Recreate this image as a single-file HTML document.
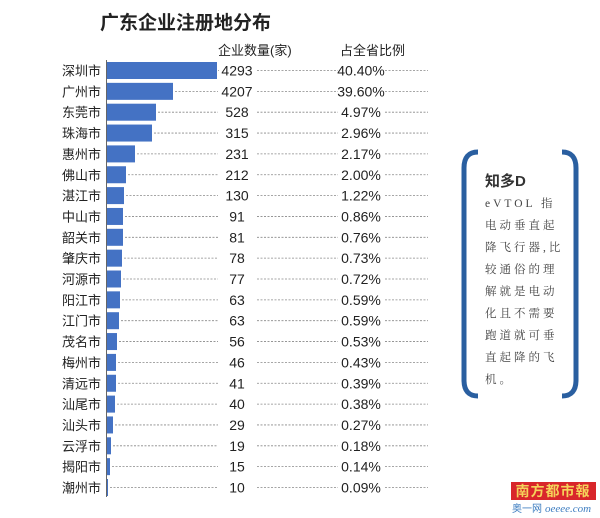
<!DOCTYPE html>
<html><head><meta charset="utf-8"><style>
body{margin:0;background:#fff;width:600px;height:518px;overflow:hidden;position:relative;font-family:"Liberation Sans","Noto Sans CJK SC",sans-serif;}
.a{position:absolute;white-space:nowrap;}
</style></head><body>
<div class="a" style="left:100px;top:8px;font-size:19px;font-weight:bold;color:#222;">广东企业注册地分布</div>
<div class="a" style="left:218px;top:40px;font-size:13px;color:#222;">企业数量(家)</div>
<div class="a" style="left:340px;top:40px;font-size:13px;color:#222;">占全省比例</div>
<svg class="a" style="left:0;top:0" width="600" height="518" font-family="Liberation Sans,Noto Sans CJK SC,sans-serif">
<line x1="106.5" y1="60" x2="106.5" y2="497" stroke="#666" stroke-width="1"/>
<g id="rows"></g>
<!-- bracket box -->
<path d="M478,152 Q464,152 464,168 L464,380 Q464,396 478,396" fill="none" stroke="#2a5fa0" stroke-width="5"/>
<path d="M562,152 Q576,152 576,168 L576,380 Q576,396 562,396" fill="none" stroke="#2a5fa0" stroke-width="5"/>
<text x="485" y="186" font-size="15" font-weight="bold" fill="#333">知多D</text>
<g font-size="11.5" fill="#444" font-family="Liberation Serif,Noto Serif CJK SC,serif" letter-spacing="3">
<text x="485" y="207">eVTOL  指</text>
<text x="485" y="229">电动垂直起</text>
<text x="485" y="251">降飞行器,比</text>
<text x="485" y="273">较通俗的理</text>
<text x="485" y="295">解就是电动</text>
<text x="485" y="317">化且不需要</text>
<text x="485" y="339">跑道就可垂</text>
<text x="485" y="361">直起降的飞</text>
<text x="485" y="383">机。</text>
</g>
<rect x="511" y="482" width="85" height="18" fill="#d8262b"/>
<text x="553" y="496" font-size="14" font-weight="bold" fill="#f5d35a" text-anchor="middle" letter-spacing="1">南方都市報</text>
<text x="512" y="512" font-size="10" fill="#3c7cc0">奥一网</text>
<text x="545" y="512" font-size="11" font-style="italic" fill="#3c7cc0" font-family="Liberation Serif,serif">oeeee.com</text>
</svg>
<script>
var d=[["深圳市",217,"4293","40.40%"],["广州市",173,"4207","39.60%"],["东莞市",156,"528","4.97%"],["珠海市",152,"315","2.96%"],["惠州市",135,"231","2.17%"],["佛山市",126,"212","2.00%"],["湛江市",124,"130","1.22%"],["中山市",123,"91","0.86%"],["韶关市",123,"81","0.76%"],["肇庆市",122,"78","0.73%"],["河源市",121,"77","0.72%"],["阳江市",120,"63","0.59%"],["江门市",119,"63","0.59%"],["茂名市",117,"56","0.53%"],["梅州市",116,"46","0.43%"],["清远市",116,"41","0.39%"],["汕尾市",115,"40","0.38%"],["汕头市",113,"29","0.27%"],["云浮市",111,"19","0.18%"],["揭阳市",110,"15","0.14%"],["潮州市",108,"10","0.09%"]];
var s="";
for(var i=0;i<d.length;i++){var c=70.5+i*20.85;var r=d[i];
s+='<rect x="107" y="'+(c-8.5)+'" width="'+(r[1]-107)+'" height="17" fill="#4472c4"/>';
s+='<text x="62" y="'+(c+5)+'" font-size="13" fill="#222">'+r[0]+'</text>';
s+='<line x1="'+(r[1]+2)+'" y1="'+c+'" x2="218" y2="'+c+'" stroke="#888" stroke-width="0.8" stroke-dasharray="2,1.5"/>';
s+='<line x1="257" y1="'+c+'" x2="338" y2="'+c+'" stroke="#888" stroke-width="0.8" stroke-dasharray="2,1.5"/>';
s+='<line x1="385" y1="'+c+'" x2="428" y2="'+c+'" stroke="#888" stroke-width="0.8" stroke-dasharray="2,1.5"/>';
s+='<text x="237" y="'+(c+5)+'" font-size="14" fill="#222" text-anchor="middle">'+r[2]+'</text>';
s+='<text x="361" y="'+(c+5)+'" font-size="14" fill="#222" text-anchor="middle">'+r[3]+'</text>';}
document.getElementById("rows").innerHTML=s;
</script>
</body></html>
